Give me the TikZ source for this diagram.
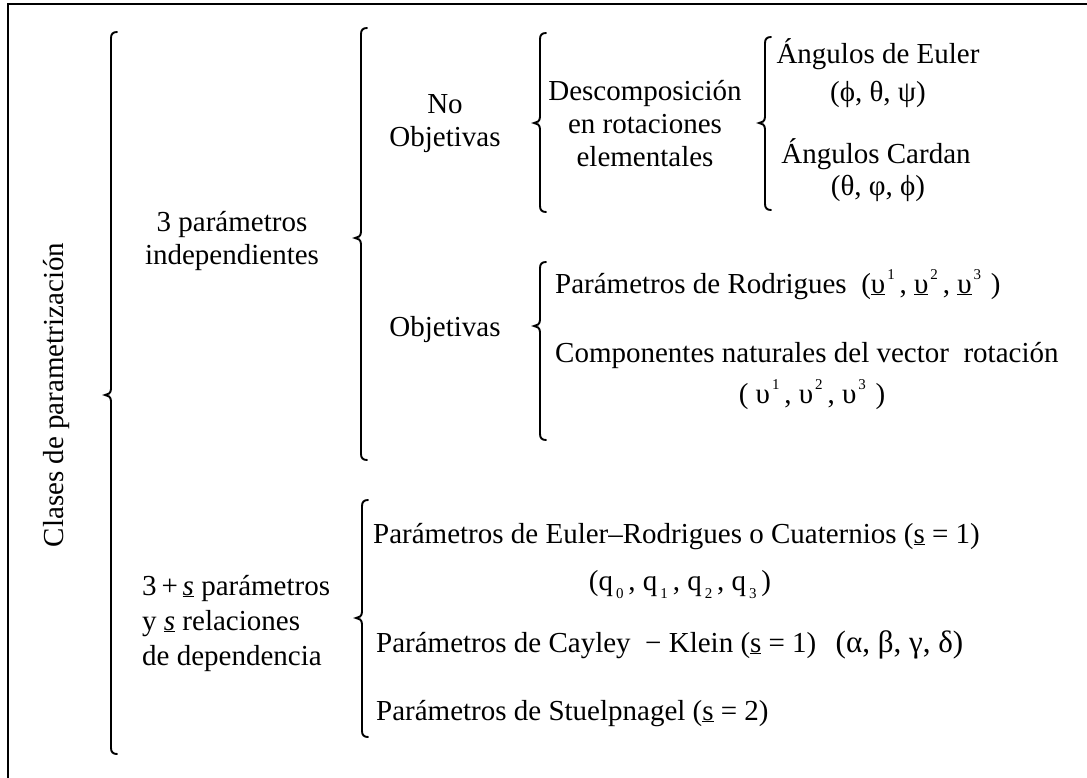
\documentclass[tikz,border=0pt]{standalone}
\usepackage{fontspec}
\setmainfont{Liberation Serif}
\newcommand{\cbrace}[4]{% x, top, tip, bottom
  \draw[bracestyle] (#1+6,#2) .. controls (#1+2,#2) and (#1,#2+2) .. (#1,#2+6)
    -- (#1,#3-6) .. controls (#1,#3-2) and (#1-3,#3) .. (#1-6,#3)
    .. controls (#1-3,#3) and (#1,#3+2) .. (#1,#3+6)
    -- (#1,#4-6) .. controls (#1,#4-2) and (#1+2,#4) .. (#1+6,#4);}
\newcommand{\supr}[1]{\hspace{2pt}\raisebox{0.48em}{\fontsize{15}{15}\selectfont #1}}
\newcommand{\subr}[1]{\hspace{3pt}\raisebox{-0.28em}{\fontsize{15}{15}\selectfont #1}}
\begin{document}
\begin{tikzpicture}[x=1pt,y=-1pt,
  bracestyle/.style={line width=1.9pt, line cap=round},
  frame/.style={line width=2.6pt},
  txt/.style={font=\fontsize{29}{34}\selectfont, inner sep=0pt, anchor=base},
  ltxt/.style={txt, anchor=base west}]
\useasboundingbox (0,0) rectangle (1087,778);
\draw[frame] (8,780) -- (8,4) -- (1089,4);

% braces
\cbrace{111}{32}{395}{754}
\cbrace{361}{28}{238}{460}
\cbrace{540}{33}{123}{212}
\cbrace{765}{37}{123}{210}
\cbrace{540}{262}{326}{440}
\cbrace{362}{500}{618}{737}

% level 0
\node[txt, rotate=90, anchor=center] (clases) at (57,395) {Clases de parametrización};

% level 1
\node[txt] (tresa) at (232,232) {3 parámetros};
\node[txt] (tresb) at (232,265) {independientes};
\node[ltxt] (sa) at (142,595) {3\,+\,\underline{\textit{s}} parámetros};
\node[ltxt] (sb) at (142,630) {y \underline{\textit{s}} relaciones};
\node[ltxt] (sc) at (142,665) {de dependencia};

% level 2
\node[txt] (noa) at (445,114) {No};
\node[txt] (nob) at (445,147) {Objetivas};
\node[txt] (obj) at (445,336) {Objetivas};

% level 3
\node[txt] (desa) at (645,101) {Descomposición};
\node[txt] (desb) at (645,134) {en rotaciones};
\node[txt] (desc) at (645,167) {elementales};

\node[ltxt] (rod) at (555,293) {Parámetros de Rodrigues \ (\underline{υ}\supr{1}\,, \underline{υ}\supr{2}\,, \underline{υ}\supr{3}\,\,)};
\node[ltxt] (comp) at (555,362) {Componentes naturales del vector \ rotación};
\node[txt] (compg) at (812,403) {( υ\supr{1}\,, υ\supr{2}\,, υ\supr{3}\,\,)};

\node[ltxt] (er) at (373,543) {Parámetros de Euler–Rodrigues o Cuaternios (\underline{s} = 1)};
\node[txt] (q) at (680,590) {(q\subr{0}\,, q\subr{1}\,, q\subr{2}\,, q\subr{3}\,)};
\node[ltxt] (cay) at (376,652) {Parámetros de Cayley \ − Klein (\underline{s} = 1) \ \,{\fontsize{31}{34}\selectfont(α, β, γ, δ)}};
\node[ltxt] (stu) at (376,720) {Parámetros de Stuelpnagel (\underline{s} = 2)};

% level 4
\node[txt] (eua) at (878,64) {Ángulos de Euler};
\node[txt] (eub) at (878,102) {(ϕ, θ, ψ)};
\node[txt] (caa) at (876,164) {Ángulos Cardan};
\node[txt] (cab) at (878,196) {(θ, φ, ϕ)};
\end{tikzpicture}
\end{document}
